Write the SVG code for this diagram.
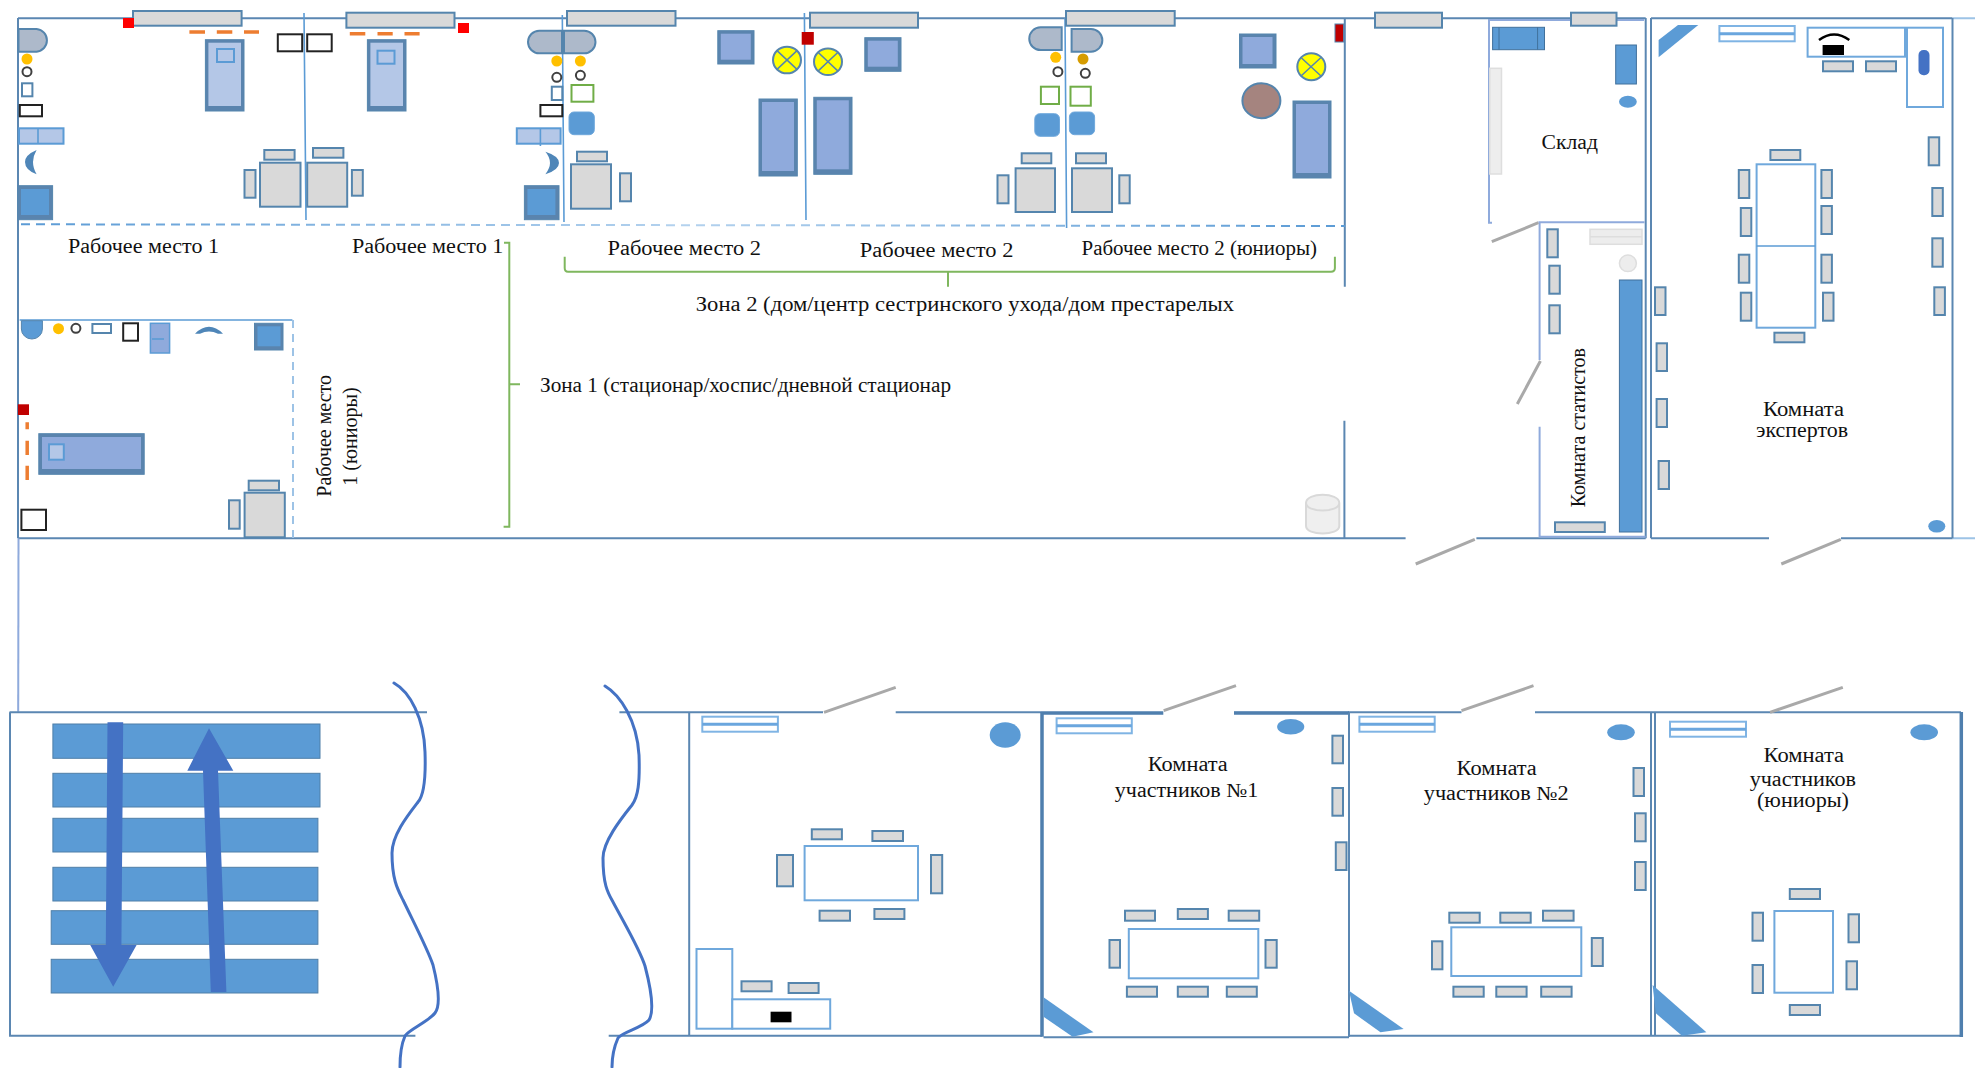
<svg xmlns="http://www.w3.org/2000/svg" width="1975" height="1068" viewBox="0 0 1975 1068">
<style>
text{font-family:"Liberation Serif","Times New Roman",serif;font-size:20px;fill:#111}
.w{fill:none;stroke:#5b87b2;stroke-width:2}
.wt{fill:none;stroke:#4f7fae;stroke-width:3.5}
.lw{fill:none;stroke:#8faadc;stroke-width:2}
.lb{fill:none;stroke:#9dc3e6;stroke-width:2}
.p{fill:none;stroke:#5b9bd5;stroke-width:1.6}
.dr{fill:none;stroke:#a9a9a9;stroke-width:3}
.g{fill:none;stroke:#7fb75e;stroke-width:2}
.win{fill:#d9d9d9;stroke:#5585ad;stroke-width:2}
.c{fill:#d9d9d9;stroke:#5585ad;stroke-width:2}
.t{fill:#fff;stroke:#6fa8dc;stroke-width:2}
.tk{fill:none;stroke:#222;stroke-width:2}
.sm{fill:#fff;stroke:#5585ad;stroke-width:2}
.gr{fill:#fff;stroke:#70ad47;stroke-width:2}
.cap{fill:#adb9ca;stroke:#5585ad;stroke-width:2}
.or{fill:#ffc000}
.ri{fill:#fff;stroke:#404040;stroke-width:2}
.d{fill:none;stroke:#ed7d31;stroke-width:3.5}
.re{fill:#ff0000}
.dre{fill:#c00000}
.bo{fill:#5a84ae;stroke:#5585ad;stroke-width:1}
.bi{fill:#b4c7e7}
.li{fill:#8faadc}
.si{fill:#5b9bd5}
.bl{fill:#5b9bd5;stroke:#41719c;stroke-width:1}
.rb{fill:#5b9bd5;stroke:#6fa8dc;stroke-width:1}
.db{fill:#b4c7e7;stroke:#5b9bd5;stroke-width:2}
.arc{fill:#4f86b8}
.ac{fill:#fff;stroke:#7fb4e4;stroke-width:2}
.acl{fill:none;stroke:#6aa6de;stroke-width:3}
.xc{fill:#ffff00;stroke:#5585ad;stroke-width:2}
.xl{fill:none;stroke:#5585ad;stroke-width:1.5}
.st{fill:#5b9bd5;stroke:#4f7fa8;stroke-width:1}
.ar{fill:#4472c4}
.wv{fill:none;stroke:#4472c4;stroke-width:3;stroke-linecap:round;stroke-linejoin:round}
.fa{fill:#ededed;stroke:#dedede;stroke-width:1.5}
</style>
<defs>
<linearGradient id="dashg" gradientUnits="userSpaceOnUse" x1="21" y1="0" x2="1345" y2="0">
<stop offset="0" stop-color="#5b9bd5"/><stop offset="0.5" stop-color="#b4d2ee"/><stop offset="1" stop-color="#5b9bd5"/>
</linearGradient>
</defs>

<g id="walls">
<path class="w" d="M18 18.3H1645.7M1651 18.3H1952.5"/>
<path class="lb" d="M1952.5 18.3H1975M1952.5 538.3H1975"/>
<path class="w" d="M18 18V538.3M18 538.3H1405.6M1476.4 538.3H1645.7M1651 538.3H1769M1841 538.3H1952.5"/>
<path class="w" d="M1344.8 18V286.7M1344.4 420.7V538.3M1645.7 18V538.3M1651 18V538.3M1952.5 18V538.3"/>
<path class="lw" d="M18.5 538.3L18.2 711.7"/>
<path class="lw" d="M1644 20H1489V222.7H1492"/>
<path class="lw" d="M1538.4 222.3H1644.5"/>
<path class="lw" d="M1539.6 222.7V360M1539.6 426.7V536.7H1645.7"/>
<path class="p" d="M304 13L306 220M562.3 15L564 222M804.4 13L806 220M1065 18L1066.6 228"/>
<path d="M21 224.3L1345 226" fill="none" stroke="url(#dashg)" stroke-width="2" stroke-dasharray="9 6"/>
<path class="dr" d="M1415.7 564L1474.8 539.3M1781.3 564L1840.8 539.3M1491.8 241.7L1538.4 222.7M1540.4 361L1517.3 404"/>
<path class="w" d="M9.5 712.3H427M10 712.3V1035.7H415.4"/>
<path class="w" d="M619.4 712.3H823M895.7 712.3H1041M1234 712.8H1349M1348 712.3H1461.5M1535 712.3H1961"/>
<path class="wt" d="M1041 713H1163.3M1234 713H1349"/>
<path class="w" d="M689.2 712.3V1035.7M608.7 1035.7H1042M1043.5 1037.3H1349M1349 713V1037M1348 1035.7H1961M1651 712.3V1035.7M1655 712.3V1035.7"/>
<path class="wt" d="M1042 712V1036.7M1961.3 712V1037"/>
<path class="dr" d="M824 712.3L895.7 687.3M1163.7 710.7L1236 685.7M1461.5 710.7L1533.5 685.7M1770 712.3L1842.8 687.3"/>
</g>

<g id="windows">
<rect class="win" x="133" y="11" width="108.6" height="14.7"/>
<rect class="win" x="346.4" y="12.7" width="108.1" height="15"/>
<rect class="win" x="567" y="11" width="108.5" height="14.7"/>
<rect class="win" x="810" y="12.7" width="108" height="15"/>
<rect class="win" x="1066" y="11" width="108.7" height="14.7"/>
<rect class="win" x="1375" y="12.7" width="67" height="15"/>
<rect class="win" x="1571" y="12.7" width="45.5" height="13"/>
</g>

<g id="zone1-workplace1-a">
<rect class="re" x="123" y="18" width="11" height="10"/>
<path class="d" d="M189.4 32H205M216.8 32H232.3M244 32H259"/>
<rect class="bo" x="205.4" y="39.7" width="38.6" height="71.3"/><rect class="bi" x="208.4" y="42.7" width="32.6" height="63.3"/>
<rect class="db" x="217" y="49" width="17" height="13"/>
<rect class="tk" x="277.8" y="34.3" width="24.4" height="17"/>
<path class="cap" d="M18.5 29H36.6A11.4 11.4 0 0 1 36.6 51.7H18.5Z"/>
<circle class="or" cx="27" cy="59" r="5.5"/><circle class="ri" cx="27" cy="71.7" r="4.5"/>
<rect class="sm" x="22" y="83.3" width="10.4" height="13"/>
<rect class="tk" x="19.8" y="105" width="22.2" height="11.3"/>
<rect class="db" x="19" y="128.3" width="44.5" height="15.4"/><path class="p" d="M38 128.3V143.7"/>
<path class="arc" d="M36.6 150Q25 155 25 162Q25 170 36.6 174.3Q33 168 33 162Q33 156 36.6 150Z"/>
<rect class="bo" x="18" y="185.7" width="34.6" height="34"/><rect class="si" x="21" y="189" width="28" height="26"/>
<rect class="c" x="260" y="162.7" width="40.5" height="44"/>
<rect class="c" x="264.3" y="150" width="30.3" height="9.7"/>
<rect class="c" x="244.5" y="170" width="11" height="27.7"/>
</g>

<g id="zone1-workplace1-b">
<rect class="re" x="458" y="23" width="11" height="10"/>
<path class="d" d="M349.8 33.7H365.3M377.5 33.7H392.7M404.5 33.7H419.6"/>
<rect class="bo" x="367.4" y="39.7" width="38.6" height="71.3"/><rect class="bi" x="370.4" y="42.7" width="32.6" height="63.3"/>
<rect class="db" x="377.5" y="50.7" width="17" height="13"/>
<rect class="tk" x="307.2" y="34.3" width="24.5" height="17"/>
<rect class="tk" x="540.4" y="105" width="21.9" height="11.3"/>
<rect class="db" x="516.8" y="128.3" width="43.8" height="15.4"/><path class="p" d="M540.4 128.3V146"/>
<path class="cap" d="M562 30.7H539.3A11.3 11.3 0 0 0 539.3 53.3H562Z"/>
<circle class="or" cx="556.8" cy="61" r="5.5"/><circle class="ri" cx="556.8" cy="77.3" r="4.5"/>
<rect class="sm" x="551.8" y="86.7" width="10.5" height="13.3"/>
<path class="arc" d="M545.4 151.7Q559 156 559 163Q559 170 545.4 174.3Q550 168 550 163Q550 157 545.4 151.7Z"/>
<rect class="bo" x="524.4" y="185.7" width="34.6" height="34"/><rect class="si" x="527.4" y="189" width="28" height="26"/>
<rect class="c" x="307.2" y="162.7" width="40" height="44"/>
<rect class="c" x="313" y="148" width="30.4" height="9.7"/>
<rect class="c" x="351.9" y="170" width="10.9" height="25.7"/>
</g>

<g id="zone2-workplace2-a">
<path class="cap" d="M564 30.7H584.2A11.3 11.3 0 0 1 584.2 53.3H564Z"/>
<circle class="or" cx="580.4" cy="61" r="5.5"/><circle class="ri" cx="580.4" cy="75.3" r="4.5"/>
<rect class="gr" x="571.5" y="85" width="21.9" height="16.7"/>
<rect class="rb" x="569" y="112" width="25.3" height="22.7" rx="5"/>
<rect class="c" x="571" y="164.3" width="40" height="44.4"/>
<rect class="c" x="577" y="151.7" width="30" height="9.6"/>
<rect class="c" x="620" y="173.3" width="11" height="28"/>
<rect class="bo" x="717.8" y="30.7" width="36.2" height="33.3"/><rect class="li" x="720.8" y="33.7" width="30" height="26"/>
<ellipse class="xc" cx="787" cy="60" rx="14" ry="13.3"/><path class="xl" d="M777 50.6L797 69.4M797 50.6L777 69.4"/>
<rect class="bo" x="759" y="99" width="38.3" height="77"/><rect class="li" x="762" y="102" width="32" height="69"/>
</g>

<g id="zone2-workplace2-b">
<rect class="dre" x="801.7" y="32" width="12.1" height="12.7"/>
<ellipse class="xc" cx="828" cy="61.7" rx="14" ry="13.3"/><path class="xl" d="M818 52.3L838 71.1M838 52.3L818 71.1"/>
<rect class="bo" x="864.8" y="37.7" width="36.2" height="33.6"/><rect class="li" x="867.8" y="40.7" width="30" height="26"/>
<rect class="bo" x="813.8" y="97.3" width="38.2" height="77"/><rect class="li" x="816.8" y="100.3" width="32" height="69"/>
<path class="cap" d="M1061.7 27.3H1040.6A11.35 11.35 0 0 0 1040.6 50H1061.7Z"/>
<circle class="or" cx="1055.7" cy="57.3" r="5.5"/><circle class="ri" cx="1057.9" cy="71.7" r="4.5"/>
<rect class="gr" x="1040.9" y="86.7" width="18.1" height="17.3"/>
<rect class="rb" x="1034.8" y="113.7" width="24.7" height="22.6" rx="5"/>
<rect class="c" x="1015.6" y="168.3" width="39.4" height="43.7"/>
<rect class="c" x="1021.7" y="153.3" width="29.6" height="10"/>
<rect class="c" x="997.5" y="175.3" width="11" height="28"/>
</g>

<g id="zone2-workplace2-juniors">
<path class="cap" d="M1071.6 29H1091A11.35 11.35 0 0 1 1091 51.7H1071.6Z"/>
<circle cx="1083" cy="59" r="5.5" fill="#d69c00"/><circle class="ri" cx="1085.3" cy="73.3" r="4.5"/>
<rect class="gr" x="1070.5" y="86.7" width="20.3" height="19"/>
<rect class="rb" x="1069.4" y="112" width="25.2" height="22.7" rx="5"/>
<rect class="c" x="1072" y="168.3" width="40" height="43.7"/>
<rect class="c" x="1076" y="153.3" width="30" height="10"/>
<rect class="c" x="1119.3" y="175.3" width="10.4" height="28"/>
<rect class="bo" x="1239.5" y="34" width="36.5" height="34"/><rect class="li" x="1242.5" y="37" width="30" height="27"/>
<ellipse class="xc" cx="1311.3" cy="66.7" rx="14" ry="13.5"/><path class="xl" d="M1301 57.5L1321 76M1321 57.5L1301 76"/>
<ellipse cx="1261.4" cy="100.7" rx="19" ry="17.5" fill="#a5847f" stroke="#5585ad" stroke-width="2"/>
<rect class="bo" x="1293" y="101" width="38" height="77"/><rect class="li" x="1296" y="104" width="32" height="69"/>
<rect class="dre" x="1335" y="24" width="8.6" height="18" stroke="#5585ad"/>
<path d="M1306 503V526C1306 536 1339.3 536 1339.3 526V503C1339.3 492 1306 492 1306 503C1306 513 1339.3 513 1339.3 503" fill="#efefef" stroke="#d9d9d9" stroke-width="2"/>
</g>

<g id="zone1-workplace1-juniors">
<path class="p" d="M19.6 320H292.4" stroke-width="2"/>
<path class="lb" d="M293 320V538" stroke-dasharray="8 6"/>
<path d="M21.4 320.7H42.4V329A10.5 10 0 0 1 21.4 329Z" fill="#5b9bd5" stroke="#5585ad"/>
<circle class="or" cx="58.5" cy="328.7" r="5.5"/><circle class="ri" cx="75.9" cy="328.3" r="4.5"/>
<rect class="sm" x="92.4" y="324" width="18.6" height="9"/>
<rect class="tk" x="123.2" y="323.3" width="14.8" height="17.4"/>
<rect x="150.4" y="323.3" width="19.2" height="29.7" fill="#8faadc" stroke="#5b9bd5" stroke-width="1.5"/><path class="p" d="M152 339H164" stroke-width="2"/>
<path class="arc" d="M195 333.7Q209 320 223 333.7L218 333.7Q209 329.5 200 333.7Z"/>
<rect class="bo" x="254.5" y="323.3" width="28.5" height="26.7"/><rect class="si" x="257.5" y="326.3" width="23" height="20"/>
<rect class="dre" x="17.9" y="404.3" width="11.1" height="10.7"/>
<path class="d" d="M27.2 422.3V429.3M27.2 440.7V455M27.2 465.7V480"/>
<rect class="bo" x="38.8" y="433.7" width="105.4" height="40.6"/><rect class="li" x="42" y="437" width="99" height="32"/>
<rect class="db" x="49" y="444.3" width="14.8" height="15.4"/>
<rect class="tk" x="21.4" y="509.7" width="24.6" height="20.3"/>
<rect class="c" x="229" y="500.3" width="10.7" height="28.4"/>
<rect class="c" x="244.6" y="492.7" width="40.2" height="44.6"/>
<rect class="c" x="248.7" y="480.7" width="30.3" height="9.6"/>
</g>

<g id="zone-brackets">
<path class="g" d="M504 242.7H509.3V526.7H503.6M509 384.3H520"/>
<path class="g" d="M564.7 256.7V268Q564.7 271.7 568 271.7H1331Q1334.9 271.7 1334.9 268V256.7M948 271.7V286.7"/>
</g>

<g id="storage">
<rect class="bl" x="1492.6" y="27.3" width="51.9" height="22.4" stroke-width="1.5"/><path fill="none" stroke="#41719c" d="M1499 27.3V49.7M1537.6 27.3V49.7"/>
<rect class="bl" x="1615.7" y="45" width="20.7" height="39"/>
<ellipse cx="1627.9" cy="101.7" rx="8.9" ry="6" fill="#5b9bd5"/>
<rect class="fa" x="1489.8" y="68.3" width="11.7" height="105.7"/>
</g>

<g id="statisticians-room">
<rect class="fa" x="1590" y="229.3" width="52" height="15"/><path fill="none" stroke="#dedede" stroke-width="1.5" d="M1590 236.8H1642"/>
<ellipse class="fa" cx="1627.9" cy="263.3" rx="8.5" ry="8.3"/>
<rect class="c" x="1547.3" y="229.3" width="10.5" height="28"/>
<rect class="c" x="1549.3" y="265.7" width="10.5" height="28"/>
<rect class="c" x="1549.3" y="305.3" width="10.5" height="28"/>
<rect class="bl" x="1619.4" y="280" width="22.6" height="252"/>
<rect class="c" x="1555" y="522.3" width="49.8" height="9.7"/>
</g>

<g id="experts-room">
<polygon class="si" points="1658.6,40 1678,25 1698.3,25 1658.6,57.3"/>
<rect class="ac" x="1719.4" y="26" width="75.3" height="15.3"/><path class="acl" d="M1719.4 33.7H1794.7"/>
<rect class="t" x="1807.6" y="27.7" width="97.4" height="29"/>
<path d="M1819 40Q1834 29 1849.3 40" fill="none" stroke="#000" stroke-width="2.5"/>
<rect x="1822.6" y="45" width="21.4" height="10" fill="#000"/>
<rect class="c" x="1823" y="61.3" width="30" height="10"/>
<rect class="c" x="1866" y="61.3" width="30" height="10"/>
<rect class="t" x="1907" y="27.7" width="36" height="79.3"/>
<rect x="1918.5" y="50" width="11" height="25.3" rx="5" fill="#4472c4"/>
<rect class="c" x="1928.7" y="137.3" width="10.5" height="28"/>
<rect class="c" x="1932.3" y="188" width="10.5" height="28"/>
<rect class="c" x="1932.3" y="238.3" width="10.5" height="28.4"/>
<rect class="c" x="1934.3" y="287.3" width="10.6" height="27.7"/>
<rect class="t" x="1756.6" y="164.3" width="58.7" height="163.4"/><path class="p" d="M1756.6 246H1815.3" stroke-width="2"/>
<rect class="c" x="1770.4" y="150" width="29.9" height="10"/>
<rect class="c" x="1774.4" y="332.7" width="30" height="9.6"/>
<rect class="c" x="1738.8" y="170" width="10.5" height="28"/>
<rect class="c" x="1740.8" y="208" width="10.5" height="28"/>
<rect class="c" x="1738.8" y="254.7" width="10.5" height="28"/>
<rect class="c" x="1740.8" y="292.7" width="10.5" height="28"/>
<rect class="c" x="1821.4" y="170" width="10.5" height="28"/>
<rect class="c" x="1821.4" y="206" width="10.5" height="28"/>
<rect class="c" x="1821.4" y="254.7" width="10.5" height="28"/>
<rect class="c" x="1823" y="292.7" width="10.5" height="28"/>
<rect class="c" x="1655" y="287.3" width="10.5" height="27.7"/>
<rect class="c" x="1656.6" y="343.3" width="10.4" height="27.7"/>
<rect class="c" x="1656.6" y="399" width="10.4" height="28"/>
<rect class="c" x="1658.6" y="461" width="10.4" height="28"/>
<ellipse cx="1936.8" cy="526.3" rx="8.5" ry="6.3" fill="#5b9bd5"/>
</g>

<g id="stairs">
<rect class="st" x="52.9" y="724" width="267.1" height="34.3"/>
<rect class="st" x="52.9" y="773.3" width="267.1" height="33.7"/>
<rect class="st" x="52.9" y="818.3" width="265" height="33.7"/>
<rect class="st" x="52.9" y="867.3" width="265" height="33.7"/>
<rect class="st" x="51.2" y="910.7" width="266.7" height="33.6"/>
<rect class="st" x="51.2" y="959.3" width="266.7" height="33.7"/>
<polygon class="ar" points="107.5,722.3 123.2,722.3 121.4,945 136.6,945 113.2,986.7 90.2,945 105.8,945"/>
<polygon class="ar" points="209,728.3 233.3,770.7 218,770.7 226.4,992 210.8,992 203,770.7 187.3,770.7"/>
</g>

<g id="break-lines">
<path class="wv" d="M394 683C410 692 424 718 425 752C426 780 424 795 418 802C408 815 392 835 392 853C392 880 398 890 403 900C415 925 428 950 433 965C438 985 441 1005 435 1013C428 1022 408 1030 405 1036C401 1045 400 1055 400 1067"/>
<path class="wv" d="M605 686C620 695 637 720 639 755C640 783 638 797 632 805C620 820 603 842 603 858C603 885 608 893 613 902C628 930 640 950 645 966C650 985 655 1010 649 1020C642 1028 622 1032 618 1038C614 1047 612 1057 612 1067"/>
</g>

<g id="room-unnamed">
<rect class="ac" x="702.3" y="716.7" width="75.6" height="15"/><path class="acl" d="M702.3 724.2H777.9"/>
<ellipse cx="1005.2" cy="735" rx="15.5" ry="12.7" fill="#5b9bd5"/>
<rect class="t" x="804.6" y="846" width="113.4" height="54.3"/>
<rect class="c" x="811.8" y="829.3" width="30.1" height="10"/>
<rect class="c" x="872.4" y="831" width="30.6" height="10"/>
<rect class="c" x="777" y="855" width="16" height="31.3"/>
<rect class="c" x="931" y="855" width="11.2" height="38.3"/>
<rect class="c" x="819.6" y="910.7" width="30.4" height="10"/>
<rect class="c" x="874.4" y="909" width="30" height="10"/>
<rect class="t" x="696.5" y="949" width="35.8" height="79.7"/>
<rect class="t" x="732.3" y="999.3" width="97.9" height="29.4"/>
<rect class="c" x="741.5" y="981.3" width="30.1" height="10"/>
<rect class="c" x="788.6" y="983" width="30" height="10"/>
<rect x="770.6" y="1011.7" width="20.9" height="10.6" fill="#000"/>
</g>

<g id="participants-room-1">
<rect class="ac" x="1056.6" y="718.3" width="75.2" height="15"/><path class="acl" d="M1056.6 725.8H1131.8"/>
<ellipse cx="1290.7" cy="726.7" rx="13.6" ry="7.7" fill="#5b9bd5"/>
<rect class="c" x="1332.4" y="735.7" width="10.6" height="27.6"/>
<rect class="c" x="1332.4" y="788" width="10.6" height="27.7"/>
<rect class="c" x="1335.8" y="842.3" width="10.7" height="27.7"/>
<rect class="t" x="1128.8" y="929" width="129.5" height="49.3"/>
<rect class="c" x="1125" y="910.7" width="30" height="10"/>
<rect class="c" x="1177.8" y="909" width="30.1" height="10"/>
<rect class="c" x="1228.7" y="910.7" width="30.5" height="10"/>
<rect class="c" x="1126.9" y="986.7" width="30.1" height="10"/>
<rect class="c" x="1177.8" y="986.7" width="30.1" height="10"/>
<rect class="c" x="1226.8" y="986.7" width="30" height="10"/>
<rect class="c" x="1109.5" y="940" width="10.5" height="27.7"/>
<rect class="c" x="1265.5" y="940" width="11.2" height="27.7"/>
<polygon class="si" points="1043.5,997.3 1093.5,1032.3 1072.6,1036.7 1043.5,1016.7"/>
</g>

<g id="participants-room-2">
<rect class="ac" x="1359.4" y="716.7" width="75.3" height="15"/><path class="acl" d="M1359.4 724.2H1434.7"/>
<ellipse cx="1621" cy="732.3" rx="13.8" ry="8" fill="#5b9bd5"/>
<rect class="c" x="1633.5" y="768" width="10.5" height="28"/>
<rect class="c" x="1635" y="813.3" width="10.7" height="28"/>
<rect class="c" x="1635" y="862" width="10.7" height="28"/>
<rect class="t" x="1451.3" y="927.3" width="130" height="48.7"/>
<rect class="c" x="1449.3" y="912.7" width="30.4" height="10"/>
<rect class="c" x="1500.3" y="912.7" width="30.4" height="10"/>
<rect class="c" x="1543" y="910.7" width="30.6" height="10"/>
<rect class="c" x="1453.4" y="986.7" width="30.3" height="10"/>
<rect class="c" x="1496.3" y="986.7" width="30.3" height="10"/>
<rect class="c" x="1541.2" y="986.7" width="30.4" height="10"/>
<rect class="c" x="1432" y="941.3" width="10.4" height="28"/>
<rect class="c" x="1591.8" y="938" width="11" height="28"/>
<polygon class="si" points="1349,990.7 1403.6,1029 1380.5,1032.3 1354,1013.3"/>
</g>

<g id="participants-room-juniors">
<rect class="ac" x="1670" y="721.7" width="76" height="15"/><path class="acl" d="M1670 729.2H1746"/>
<ellipse cx="1924.2" cy="732.3" rx="13.8" ry="8" fill="#5b9bd5"/>
<rect class="t" x="1774.4" y="911" width="58.6" height="81.7"/>
<rect class="c" x="1789.8" y="889" width="30.2" height="10"/>
<rect class="c" x="1789.8" y="1005" width="30.2" height="10"/>
<rect class="c" x="1752.5" y="912.7" width="10.5" height="28"/>
<rect class="c" x="1752.5" y="965" width="10.5" height="28"/>
<rect class="c" x="1848.5" y="914.3" width="10.5" height="28"/>
<rect class="c" x="1846.5" y="961.3" width="10.5" height="28"/>
<polygon class="si" points="1652.6,985 1706.4,1032.3 1682,1035.7 1655.8,1013.3"/>
</g>

<g id="labels">
<text x="68" y="252.7" textLength="151" lengthAdjust="spacingAndGlyphs">Рабочее место 1</text>
<text x="351.9" y="252.7" textLength="151.5" lengthAdjust="spacingAndGlyphs">Рабочее место 1</text>
<text x="607.5" y="255" textLength="153.5" lengthAdjust="spacingAndGlyphs">Рабочее место 2</text>
<text x="859.8" y="256.7" textLength="153.6" lengthAdjust="spacingAndGlyphs">Рабочее место 2</text>
<text x="1081.5" y="255" textLength="235.5" lengthAdjust="spacingAndGlyphs">Рабочее место 2 (юниоры)</text>
<text x="695.8" y="311" textLength="538.2" lengthAdjust="spacingAndGlyphs">Зона 2 (дом/центр сестринского ухода/дом престарелых</text>
<text x="540" y="391.7" textLength="411" lengthAdjust="spacingAndGlyphs">Зона 1 (стационар/хоспис/дневной стационар</text>
<text transform="translate(331 496.7) rotate(-90)" textLength="121.7" lengthAdjust="spacingAndGlyphs">Рабочее место</text>
<text transform="translate(357 485.7) rotate(-90)" textLength="98.4" lengthAdjust="spacingAndGlyphs">1 (юниоры)</text>
<text x="1541.6" y="149" textLength="56.3" lengthAdjust="spacingAndGlyphs">Склад</text>
<text transform="translate(1585 507.3) rotate(-90)" textLength="159.3" lengthAdjust="spacingAndGlyphs">Комната статистов</text>
<text x="1763" y="415.5" textLength="81" lengthAdjust="spacingAndGlyphs">Комната</text>
<text x="1756" y="437.2" textLength="92" lengthAdjust="spacingAndGlyphs">экспертов</text>
<text x="1147.8" y="771.2" textLength="80" lengthAdjust="spacingAndGlyphs">Комната</text>
<text x="1114.8" y="796.5" textLength="143.5" lengthAdjust="spacingAndGlyphs">участников №1</text>
<text x="1456.6" y="775" textLength="80.2" lengthAdjust="spacingAndGlyphs">Комната</text>
<text x="1423.8" y="800" textLength="144.9" lengthAdjust="spacingAndGlyphs">участников №2</text>
<text x="1763.5" y="762.2" textLength="80.5" lengthAdjust="spacingAndGlyphs">Комната</text>
<text x="1749.7" y="785.5" textLength="106.3" lengthAdjust="spacingAndGlyphs">участников</text>
<text x="1757" y="807.2" textLength="92" lengthAdjust="spacingAndGlyphs">(юниоры)</text>
</g>
</svg>
